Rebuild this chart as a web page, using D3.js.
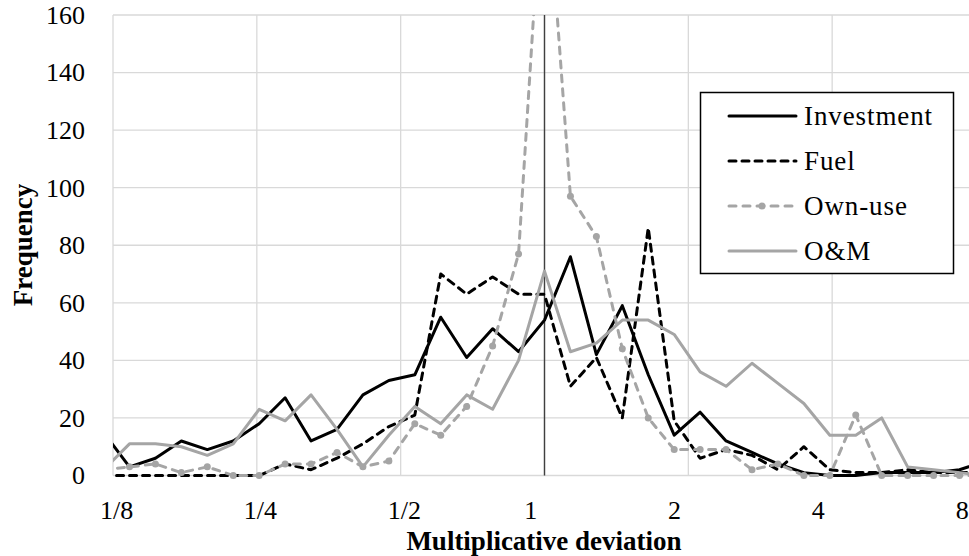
<!DOCTYPE html>
<html lang="en">
<head>
    <meta charset="UTF-8">
    <title>Multiplicative deviation</title>
    <style>
        body{ margin: 0; background: #fff; }
        svg{ display: block; font-family: "Liberation Serif", "DejaVu Serif", serif; }
    </style>
    <script src="https://cdn.jsdelivr.net/npm/d3@7"></script>
</head>
<body>
<script>
    const width = 969
    const height = 556

    // bin centres, as ln(deviation), one bin every 0.125
    const lnDev = [-2.125,-2,-1.875,-1.75,-1.625,-1.5,-1.375,-1.25,-1.125,-1,-0.875,-0.75,-0.625,-0.5,-0.375,-0.25,-0.125,
                   0,0.125,0.25,0.375,0.5,0.625,0.75,0.875,1,1.125,1.25,1.375,1.5,1.625,1.75,1.875,2,2.125]

    const investment = [15,3,6,12,9,12,18,27,12,16,28,33,35,55,41,51,43,54,76,42,59,35,14,22,12,8,4,1,0,0,1,1,1,2,5]
    const fuel       = [0,0,0,0,0,0,0,4,2,6,11,17,21,70,63,69,63,63,31,41,20,86,19,6,9,7,2,10,2,1,1,2,1,1,1]
    const ownUse     = [2,3,4,1,3,0,0,4,4,8,3,5,18,14,24,45,77,220,97,83,44,20,9,9,9,2,4,0,0,21,0,0,0,0,0]
    const oAndM      = [2,11,11,10,7,11,23,19,28,16,3,14,24,18,28,23,40,71,43,46,54,54,49,36,31,39,32,25,14,14,20,3,2,1,0]

    const seriesNames = ["Investment","Fuel","Own-use","O&M"]
    const xTicks = [1/8,1/4,1/2,1,2,4,8]
    const yTicks = [0,20,40,60,80,100,120,140,160]

    const margin = {left:113, top:15, right:976, bottom:475.5}

    let svg = d3.select("body").append("svg")
        .attr("width", width).attr("height", height)

    let x = d3.scaleLog().base(2).domain([1/8, 8]).range([margin.left, margin.right])
    let y = d3.scaleLinear().domain([0, 160]).range([margin.bottom, margin.top])

    // gridlines
    let grid = svg.append("g").attr("stroke","#d9d9d9").attr("stroke-width",1.3)
    grid.selectAll(".hg").data(yTicks).enter().append("line")
        .attr("x1", margin.left).attr("x2", margin.right)
        .attr("y1", d=>y(d)).attr("y2", d=>y(d))
    grid.selectAll(".vg").data(xTicks).enter().append("line")
        .attr("x1", d=>x(d)).attr("x2", d=>x(d))
        .attr("y1", margin.top).attr("y2", margin.bottom)

    // reference line at 1
    svg.append("line")
        .attr("x1", x(1)).attr("x2", x(1))
        .attr("y1", margin.top).attr("y2", margin.bottom)
        .attr("stroke","#404040").attr("stroke-width",1.4)

    // tick labels: excel "# ?/?" format pads whole numbers on the right, fractions on the left
    const fmt = v => v < 1 ? "1/" + Math.round(1/v) : String(v)

    svg.append("g").attr("transform",`translate(0,${margin.bottom})`)
        .call(d3.axisBottom(x).tickValues(xTicks).tickFormat(fmt).tickSize(0).tickPadding(25))
        .call(g=>g.select(".domain").remove())
        .selectAll("text").attr("font-size",26).attr("font-family","Liberation Serif").attr("fill","#000")
        .attr("dx", d=> d < 1 ? "0.12em" : "-0.55em")

    svg.append("g").attr("transform",`translate(${margin.left},0)`)
        .call(d3.axisLeft(y).tickValues(yTicks).tickSize(0).tickPadding(28))
        .call(g=>g.select(".domain").remove())
        .selectAll("text").attr("font-size",26).attr("font-family","Liberation Serif").attr("fill","#000")

    // titles
    svg.append("text").attr("x", 544).attr("y", 550)
        .attr("text-anchor","middle").attr("font-size",27).attr("font-weight","bold")
        .text("Multiplicative deviation")
    svg.append("text").attr("transform","translate(32,245) rotate(-90)")
        .attr("text-anchor","middle").attr("font-size",27).attr("font-weight","bold")
        .text("Frequency")

    // series
    svg.append("clipPath").attr("id","plotclip").append("rect")
        .attr("x", margin.left).attr("y", margin.top)
        .attr("width", margin.right - margin.left).attr("height", margin.bottom - margin.top + 6)

    const styles = [
        {values: investment, color:"#000", dash:null, marker:false},
        {values: fuel, color:"#000", dash:"7,6", marker:false},
        {values: ownUse, color:"#a5a5a5", dash:"7,7", marker:true},
        {values: oAndM, color:"#a5a5a5", dash:null, marker:false}
    ]

    let line = d3.line().x(d=>x(Math.exp(d[0]))).y(d=>y(d[1]))
    let gSeries = svg.append("g").attr("clip-path","url(#plotclip)")

    styles.forEach(s=>{
        let pts = lnDev.map((v,i)=>[v, s.values[i]])
        gSeries.append("path").datum(pts)
            .attr("d", line)
            .attr("fill","none").attr("stroke", s.color).attr("stroke-width",3)
            .attr("stroke-linejoin","round").attr("stroke-linecap","round")
            .attr("stroke-dasharray", s.dash)
        if (s.marker) {
            gSeries.selectAll(null).data(pts).enter().append("circle")
                .attr("cx", d=>x(Math.exp(d[0]))).attr("cy", d=>y(d[1]))
                .attr("r", 3.5).attr("fill", s.color)
        }
    })

    // legend
    let legend = svg.append("g")
    legend.append("rect").attr("x",700.5).attr("y",92.5).attr("width",253).attr("height",181)
        .attr("fill","#fff").attr("stroke","#000").attr("stroke-width",1.5)

    seriesNames.forEach((name,i)=>{
        let s = styles[i]
        let ly = 116 + i*45
        legend.append("line").attr("x1",729).attr("x2",796).attr("y1",ly).attr("y2",ly)
            .attr("stroke", s.color).attr("stroke-width",3).attr("stroke-linecap","round")
            .attr("stroke-dasharray", s.dash)
        if (s.marker) {
            legend.append("circle").attr("cx",762).attr("cy",ly).attr("r",3.5).attr("fill",s.color)
        }
        legend.append("text").attr("x",804).attr("y",ly).attr("dy","0.33em")
            .attr("font-size",27).attr("letter-spacing",0.9).text(name)
    })
</script>
</body>
</html>
